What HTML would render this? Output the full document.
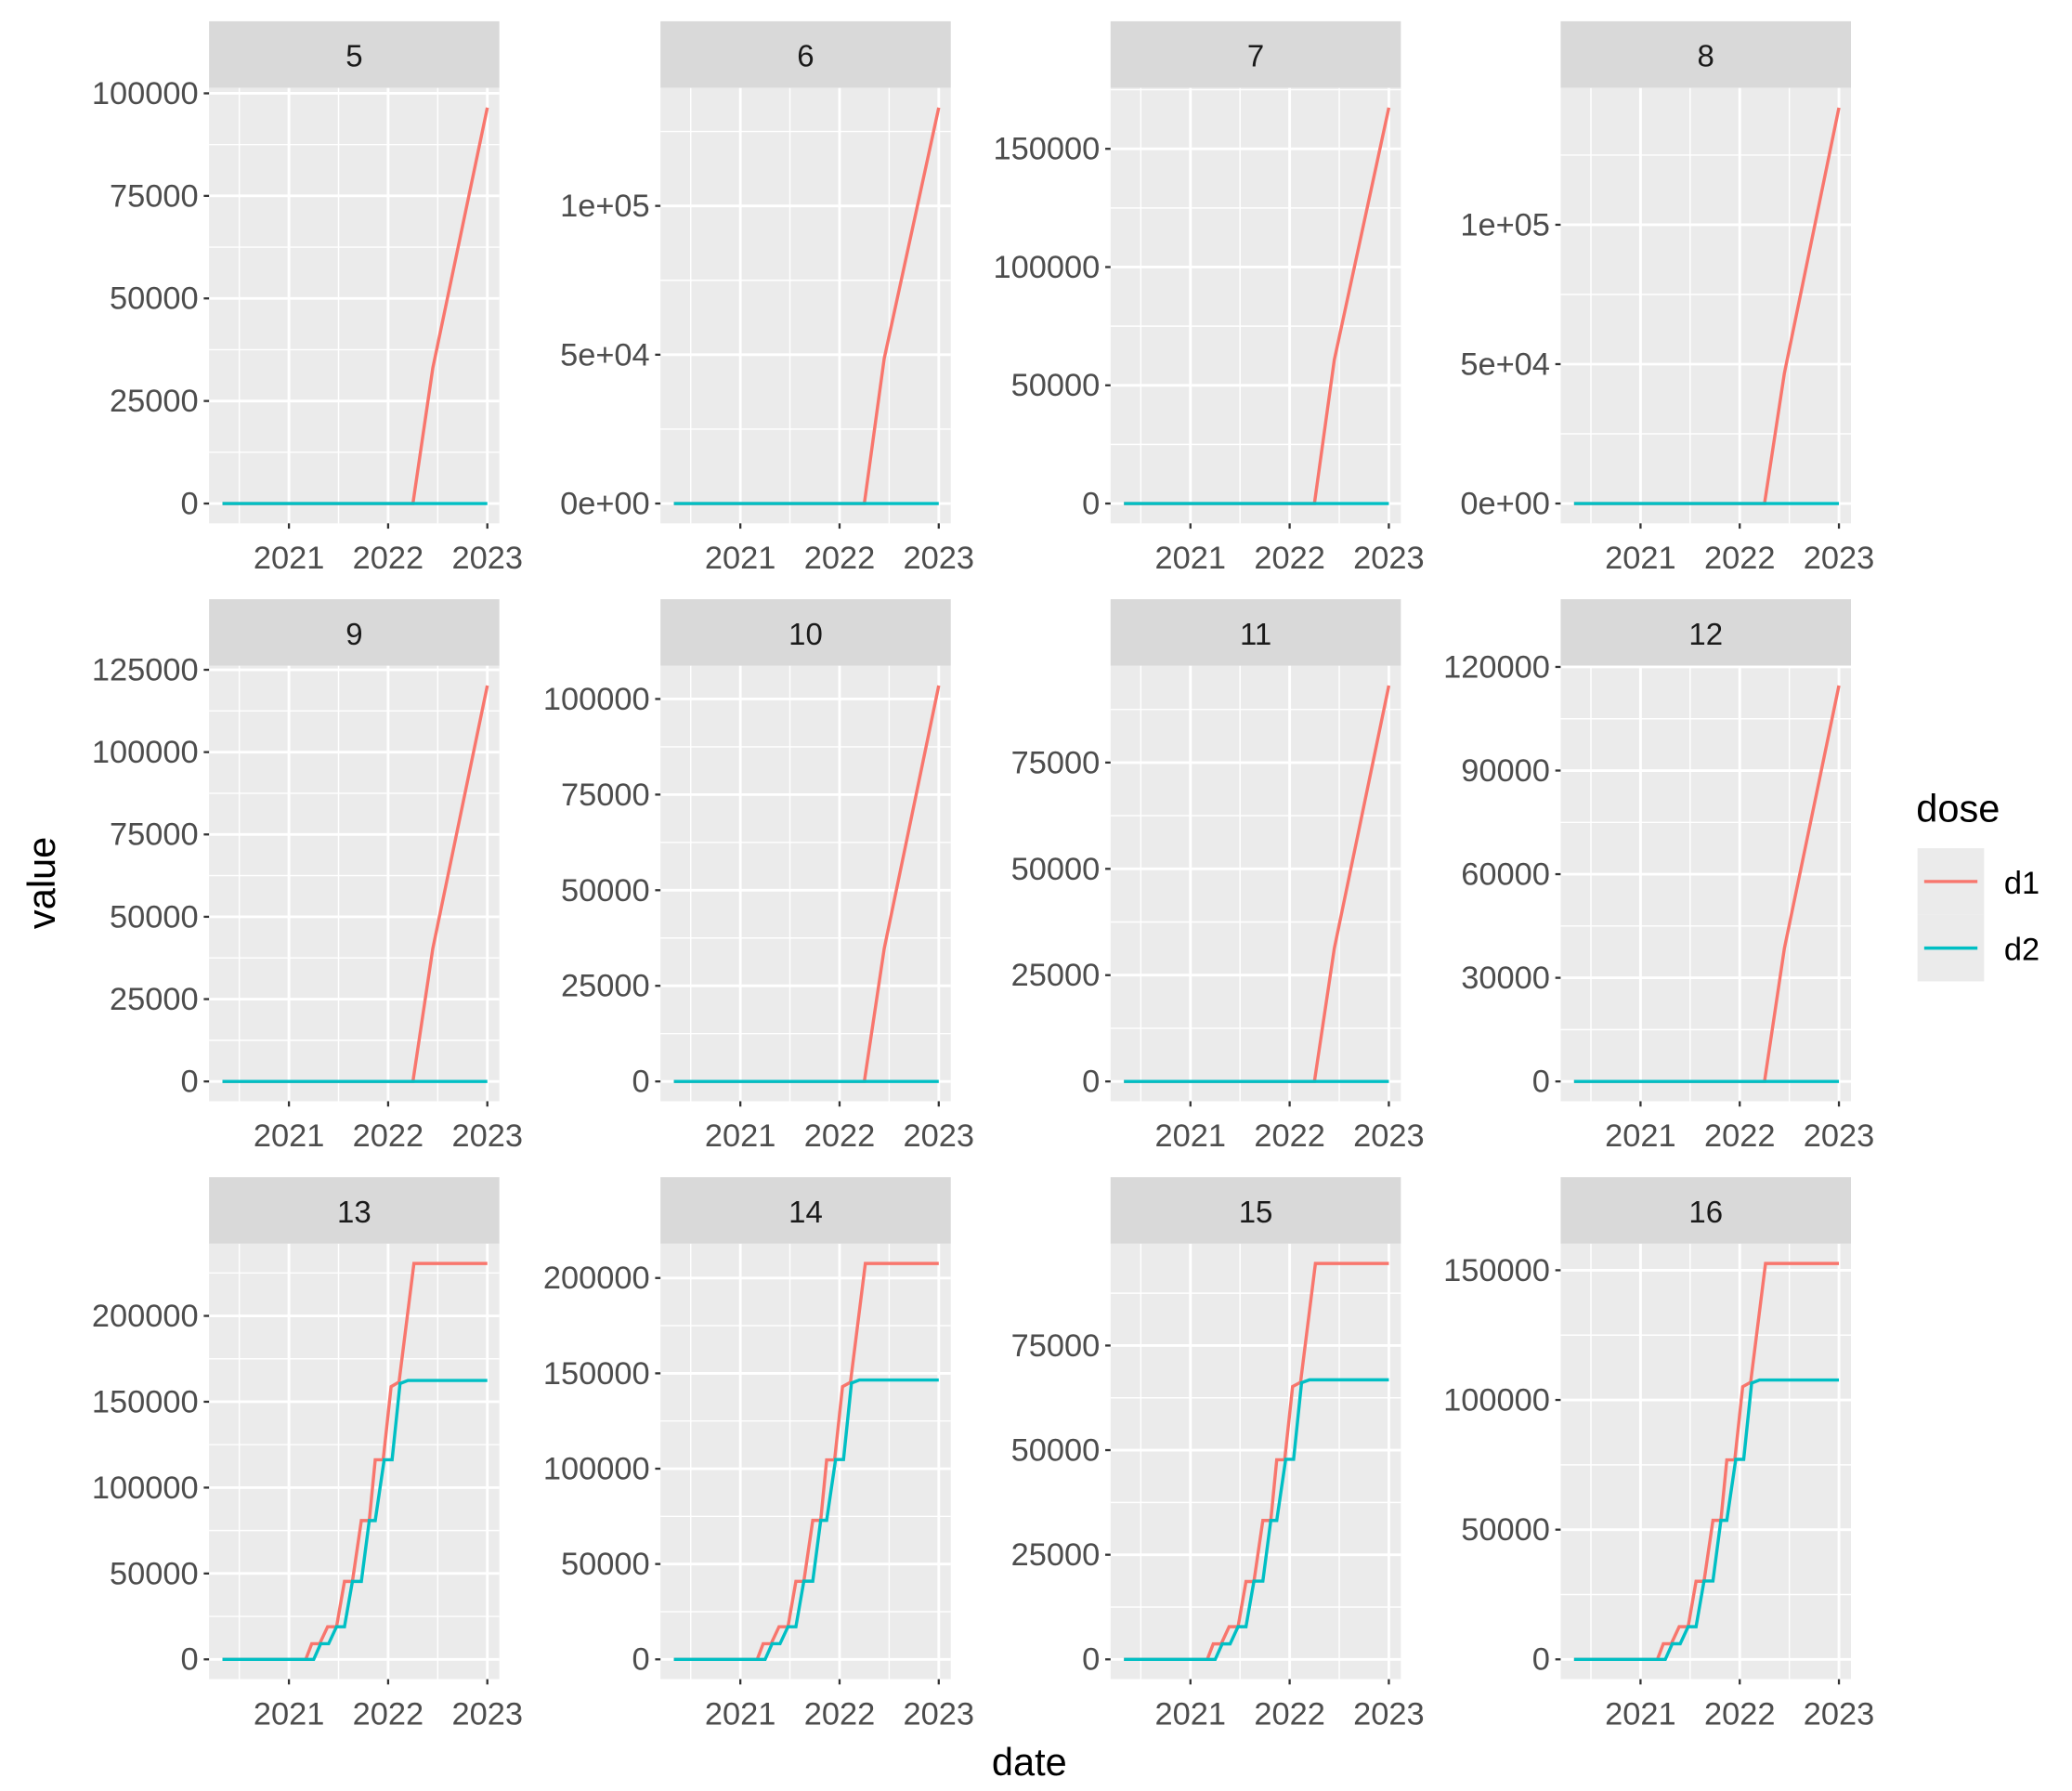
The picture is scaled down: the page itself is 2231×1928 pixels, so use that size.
<!DOCTYPE html>
<html><head><meta charset="utf-8"><style>
html,body{margin:0;padding:0;background:#fff;}
svg{display:block;font-family:"Liberation Sans",sans-serif;}
</style></head><body>
<svg id="chart" width="2231" height="1928" viewBox="0 0 1556 1345" preserveAspectRatio="none" xmlns="http://www.w3.org/2000/svg"></svg>
<script>
const panelNames = ["5","6","7","8","9","10","11","12","13","14","15","16"];
const xTicks = [2021, 2022, 2023];
const rampDates = [2020.33, 2022.25, 2022.45, 2023.0];
const flatDates = [2020.33, 2023.0];
const flatZero = [0, 0];
const d1Ramp = {
  "5": [0, 0, 33000, 96500],
  "6": [0, 0, 48700, 133000],
  "7": [0, 0, 60700, 167400],
  "8": [0, 0, 46700, 142000],
  "9": [0, 0, 40300, 120200],
  "10": [0, 0, 34700, 103500],
  "11": [0, 0, 31250, 93100],
  "12": [0, 0, 38500, 114600]
};
const stepDatesD1 = [2020.33, 2021.17, 2021.23, 2021.31, 2021.39, 2021.48, 2021.56, 2021.64, 2021.73, 2021.81, 2021.87, 2021.95, 2022.03, 2022.11, 2022.26, 2023.0];
const stepDatesD2 = [2020.33, 2021.25, 2021.32, 2021.40, 2021.48, 2021.56, 2021.64, 2021.73, 2021.81, 2021.87, 2021.96, 2022.04, 2022.12, 2022.20, 2023.0];
const d1Step = {
  "13": [0,0,9100,9100,19000,19000,45400,45400,80800,80800,116200,116200,158800,161500,230500,230500],
  "14": [0,0,8200,8200,17100,17100,40900,40900,72900,72900,104600,104600,143000,145300,207600,207600],
  "15": [0,0,3700,3700,7800,7800,18600,18600,33200,33200,47700,47700,65200,66200,94600,94600],
  "16": [0,0,6000,6000,12600,12600,30100,30100,53600,53600,76900,76900,105100,106800,152600,152600]
};
const d2Step = {
  "13": [0,0,9100,9100,19000,19000,45400,45400,80800,80800,116200,116200,160600,162400,162400],
  "14": [0,0,8200,8200,17100,17100,41000,41000,72900,72900,104800,104800,144900,146500,146500],
  "15": [0,0,3700,3700,7800,7800,18700,18700,33200,33200,47800,47800,66100,66800,66800],
  "16": [0,0,6000,6000,12600,12600,30200,30200,53600,53600,77100,77100,106500,107700,107700]
};
const yTickValues = {
  "5": [0,25000,50000,75000,100000],
  "6": [0,50000,100000],
  "7": [0,50000,100000,150000],
  "8": [0,50000,100000],
  "9": [0,25000,50000,75000,100000,125000],
  "10": [0,25000,50000,75000,100000],
  "11": [0,25000,50000,75000],
  "12": [0,30000,60000,90000,120000],
  "13": [0,50000,100000,150000,200000],
  "14": [0,50000,100000,150000,200000],
  "15": [0,25000,50000,75000],
  "16": [0,50000,100000,150000]
};
const yTickLabels = {
  "6": ["0e+00","5e+04","1e+05"],
  "8": ["0e+00","5e+04","1e+05"]
};

const NS = "http://www.w3.org/2000/svg";
const svg = document.getElementById("chart");
function mk(tag, attrs, parent) {
  const e = document.createElementNS(NS, tag);
  for (const k in attrs) e.setAttribute(k, attrs[k]);
  (parent || svg).appendChild(e);
  return e;
}
const colX = [157, 496, 834, 1172];
const rowY = [16, 450, 884];
const PW = 218, SH = 50, PH = 327;
const XMIN = 2020.195, XMAX = 2020.195 + 218 / 74.5;

panelNames.forEach((name, i) => {
  const px = colX[i % 4], sy = rowY[Math.floor(i / 4)], py = sy + SH;
  const g = mk("g", {});
  
  
  const strip = mk("rect", {x: px, y: sy, width: PW, height: SH, fill: "#d9d9d9"}, g);
  
  
  const st = mk("text", {x: px + PW / 2, y: sy + 34, "text-anchor": "middle", "font-size": 23, fill: "#1a1a1a"}, g);
  st.textContent = name;
  
  
  const bg = mk("rect", {x: px, y: py, width: PW, height: PH, fill: "#ebebeb"}, g);
  
  

  const isStep = d1Step[name] !== undefined;
  const d1 = isStep ? d1Step[name] : d1Ramp[name];
  const d1x = isStep ? stepDatesD1 : rampDates;
  const d2 = isStep ? d2Step[name] : flatZero;
  const d2x = isStep ? stepDatesD2 : flatDates;
  const ymax = Math.max(...d1, ...d2);
  const lo = -0.05 * ymax, hi = ymax * 1.05;
  const X = v => px + (v - XMIN) / (XMAX - XMIN) * PW;
  const Y = v => py + PH - (v - lo) / (hi - lo) * PH;

  const ticks = yTickValues[name];
  const step = ticks[1] - ticks[0];
  for (let k = -1; k < ticks.length + 1; k++) {
    const v = ticks[0] + (k + 0.5) * step;
    const yy = Y(v);
    if (yy > py && yy < py + PH) mk("line", {x1: px, x2: px + PW, y1: yy, y2: yy, stroke: "#fff", "stroke-width": 1}, g);
  }
  [2020.5, 2021.5, 2022.5].forEach(v => mk("line", {x1: X(v), x2: X(v), y1: py, y2: py + PH, stroke: "#fff", "stroke-width": 1}, g));
  ticks.forEach((v, k) => {
    const yy = Y(v);
    mk("line", {x1: px, x2: px + PW, y1: yy, y2: yy, stroke: "#fff", "stroke-width": 2}, g);
    mk("line", {x1: px - 4, x2: px, y1: yy, y2: yy, stroke: "#333", "stroke-width": 1.6}, g);
    const t = mk("text", {x: px - 8, y: yy + 8, "text-anchor": "end", "font-size": 24, fill: "#4d4d4d"}, g);
    t.textContent = yTickLabels[name] ? yTickLabels[name][k] : String(v);
    
    
  });
  xTicks.forEach(v => {
    const xx = X(v);
    mk("line", {x1: xx, x2: xx, y1: py, y2: py + PH, stroke: "#fff", "stroke-width": 2}, g);
    mk("line", {x1: xx, x2: xx, y1: py + PH, y2: py + PH + 4, stroke: "#333", "stroke-width": 1.6}, g);
    const t = mk("text", {x: xx, y: py + PH + 34, "text-anchor": "middle", "font-size": 24, fill: "#4d4d4d"}, g);
    t.textContent = String(v);
    
    
  });
  const l1 = mk("polyline", {points: d1x.map((d, k) => X(d) + "," + Y(d1[k])).join(" "), fill: "none", stroke: "#F8766D", "stroke-width": 2.4}, g);
  
  
  const l2 = mk("polyline", {points: d2x.map((d, k) => X(d) + "," + Y(d2[k])).join(" "), fill: "none", stroke: "#00BFC4", "stroke-width": 2.4}, g);
  
  
});

const yt = mk("text", {x: 41, y: 663, "text-anchor": "middle", "font-size": 29, fill: "#000", transform: "rotate(-90 41 663)"});
yt.textContent = "value";


const xt = mk("text", {x: 773, y: 1333, "text-anchor": "middle", "font-size": 29, fill: "#000"});
xt.textContent = "date";



const lg = mk("g", {});


const lt = mk("text", {x: 1439, y: 617, "font-size": 29, fill: "#000"}, lg);
lt.textContent = "dose";


[["d1", "#F8766D", 637], ["d2", "#00BFC4", 687]].forEach(([lab, col, y0]) => {
  mk("rect", {x: 1440, y: y0, width: 50, height: 50, fill: "#ebebeb"}, lg);
  mk("line", {x1: 1445, x2: 1485, y1: y0 + 25, y2: y0 + 25, stroke: col, "stroke-width": 2.4}, lg);
  const t = mk("text", {x: 1505, y: y0 + 34, "font-size": 24, fill: "#000"}, lg);
  t.textContent = lab;
  
  
});
</script>
</body></html>
